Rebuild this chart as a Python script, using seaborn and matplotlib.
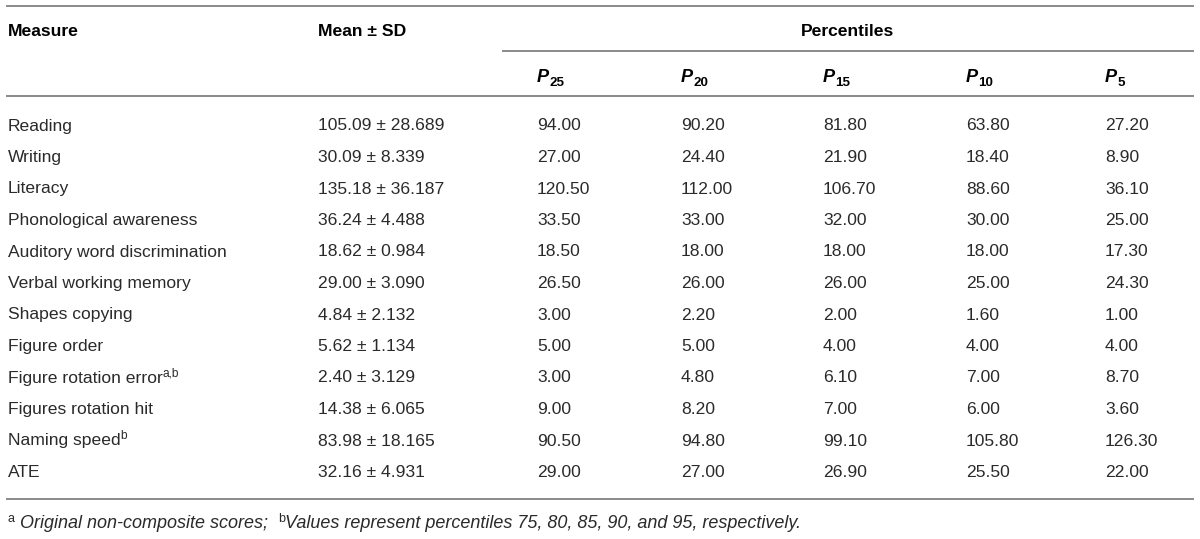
import matplotlib
matplotlib.use("Agg")
import matplotlib.pyplot as plt
import seaborn as sns

# table data
measures = ["Reading", "Writing", "Literacy", "Phonological awareness",
            "Auditory word discrimination", "Verbal working memory",
            "Shapes copying", "Figure order", "Figure rotation error",
            "Figures rotation hit", "Naming speed", "ATE"]
measure_sup = ["", "", "", "", "", "", "", "", "a,b", "", "b", ""]
means = [105.09, 30.09, 135.18, 36.24, 18.62, 29.00, 4.84, 5.62, 2.40, 14.38, 83.98, 32.16]
sds = [28.689, 8.339, 36.187, 4.488, 0.984, 3.090, 2.132, 1.134, 3.129, 6.065, 18.165, 4.931]
pct_labels = ["25", "20", "15", "10", "5"]
p25 = [94.00, 27.00, 120.50, 33.50, 18.50, 26.50, 3.00, 5.00, 3.00, 9.00, 90.50, 29.00]
p20 = [90.20, 24.40, 112.00, 33.00, 18.00, 26.00, 2.20, 5.00, 4.80, 8.20, 94.80, 27.00]
p15 = [81.80, 21.90, 106.70, 32.00, 18.00, 26.00, 2.00, 4.00, 6.10, 7.00, 99.10, 26.90]
p10 = [63.80, 18.40, 88.60, 30.00, 18.00, 25.00, 1.60, 4.00, 7.00, 6.00, 105.80, 25.50]
p5 = [27.20, 8.90, 36.10, 25.00, 17.30, 24.30, 1.00, 4.00, 8.70, 3.60, 126.30, 22.00]
percentiles = [p25, p20, p15, p10, p5]

sns.set_theme(style="white")
plt.rcParams["font.family"] = ["Liberation Sans", "DejaVu Sans"]

W, H = 1200, 539
fig = plt.figure(figsize=(W / 100, H / 100), dpi=100)
ax = fig.add_axes([0, 0, 1, 1])
ax.set_xlim(0, W)
ax.set_ylim(H, 0)
ax.axis("off")
renderer = fig.canvas.get_renderer()

FS = 12.6
body_color = "#2a2a2a"
line_color = "#8a8a8a"
col_x = [8, 318, 537, 681, 823, 966, 1105]
row_y0, row_step = 130.5, 31.5


def runs(x, y, pieces):
    # pieces: (text, dy, fontsize, extra kwargs); drawn one after another
    for s, dy, fs, kw in pieces:
        t = ax.text(x, y + dy, s, fontsize=fs, va="baseline", ha="left", **kw)
        x += t.get_window_extent(renderer).width


# rules
for y, x0 in [(6, 6), (96, 6), (499, 6)]:
    ax.plot([x0, 1194], [y, y], color=line_color, lw=1.4, solid_capstyle="butt")
ax.plot([502, 1194], [51, 51], color=line_color, lw=1.4, solid_capstyle="butt")

# header
hdr = dict(fontweight="bold", color="black")
ax.text(col_x[0], 36, "Measure", fontsize=FS, va="baseline", **hdr)
ax.text(col_x[1], 36, "Mean ± SD", fontsize=FS, va="baseline", **hdr)
ax.text((502 + 1194) / 2, 36, "Percentiles", fontsize=FS, va="baseline", ha="center", **hdr)
for x, lab in zip(col_x[2:], pct_labels):
    runs(x, 82, [("P", 0, FS + 0.5, dict(fontweight="bold", fontstyle="italic", color="black")),
                 (lab, 4, FS - 3, dict(fontweight="bold", color="black"))])

# body
for i, name in enumerate(measures):
    y = row_y0 + i * row_step
    pieces = [(name, 0, FS, dict(color=body_color))]
    if measure_sup[i]:
        pieces.append((measure_sup[i], -6.5, FS - 4, dict(color=body_color)))
    runs(col_x[0], y, pieces)
    ax.text(col_x[1], y, f"{means[i]:.2f} ± {sds[i]:.3f}", fontsize=FS,
            va="baseline", color=body_color)
    for x, col in zip(col_x[2:], percentiles):
        ax.text(x, y, f"{col[i]:.2f}", fontsize=FS, va="baseline", color=body_color)

# footnote
FN = 13
it = dict(fontstyle="italic", color=body_color)
runs(8, 527.5, [("a", -6, FN - 4, dict(color=body_color)),
                (" Original non-composite scores;  ", 0, FN, it),
                ("b", -6, FN - 4, dict(color=body_color)),
                ("Values represent percentiles 75, 80, 85, 90, and 95, respectively.", 0, FN, it)])

fig.savefig("out.png", dpi=100)
